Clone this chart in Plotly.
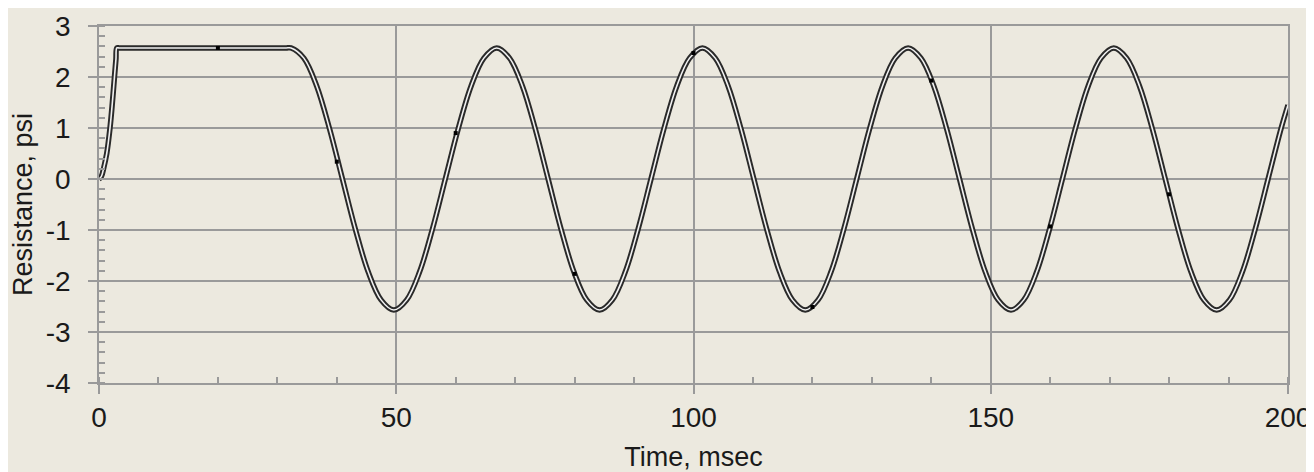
import plotly.graph_objects as go

# Resistance time history
time_ms = [0, 0.4, 0.8, 1.3, 1.85, 2.25, 2.6, 2.85, 3.0, 3.4, 10, 20, 30, 31.5,
           32.30, 34.46, 36.63, 38.79, 40.95, 43.11, 45.28, 47.44, 49.60, 51.76,
           53.93, 56.09, 58.25, 60.41, 62.58, 64.74, 66.90, 69.06, 71.23, 73.39,
           75.55, 77.71, 79.88, 82.04, 84.20, 86.36, 88.53, 90.69, 92.85, 95.01,
           97.18, 99.34, 101.50, 103.66, 105.83, 107.99, 110.15, 112.31, 114.48,
           116.64, 118.80, 120.96, 123.13, 125.29, 127.45, 129.61, 131.78, 133.94,
           136.10, 138.26, 140.43, 142.59, 144.75, 146.91, 149.08, 151.24, 153.40,
           155.56, 157.73, 159.89, 162.05, 164.21, 166.38, 168.54, 170.70, 172.86,
           175.03, 177.19, 179.35, 181.51, 183.68, 185.84, 188.00, 190.16, 192.33,
           194.49, 196.65, 198.81, 200]
resistance_psi = [0, 0.05, 0.22, 0.5, 1.0, 1.5, 2.0, 2.35, 2.57, 2.57, 2.57, 2.57, 2.57, 2.57,
                  2.57, 2.37, 1.82, 0.98, 0, -0.98, -1.82, -2.37, -2.57, -2.37,
                  -1.82, -0.98, 0, 0.98, 1.82, 2.37, 2.57, 2.37, 1.82, 0.98,
                  0, -0.98, -1.82, -2.37, -2.57, -2.37, -1.82, -0.98, 0, 0.98,
                  1.82, 2.37, 2.57, 2.37, 1.82, 0.98, 0, -0.98, -1.82,
                  -2.37, -2.57, -2.37, -1.82, -0.98, 0, 0.98, 1.82, 2.37,
                  2.57, 2.37, 1.82, 0.98, 0, -0.98, -1.82, -2.37, -2.57,
                  -2.37, -1.82, -0.98, 0, 0.98, 1.82, 2.37, 2.57, 2.37,
                  1.82, 0.98, 0, -0.98, -1.82, -2.37, -2.57, -2.37, -1.82,
                  -0.98, 0, 0.98, 1.45]

marker_time = [20, 40, 60, 80, 100, 120, 140, 160, 180]
marker_psi = [2.57, 0.34, 0.90, -1.86, 2.47, -2.51, 1.93, -0.93, -0.30]

x_ticks = [0, 50, 100, 150, 200]
y_ticks = [-4, -3, -2, -1, 0, 1, 2, 3]

BG = "#ECE9DF"
GRID = "#9A9A9A"
FONT = "Liberation Sans, Arial, sans-serif"

fig = go.Figure()
fig.add_trace(go.Scatter(x=time_ms, y=resistance_psi, mode="lines",
                         line=dict(color="#2A2A2A", width=5.5, shape="spline", smoothing=1.0),
                         hoverinfo="skip", showlegend=False))
fig.add_trace(go.Scatter(x=time_ms, y=resistance_psi, mode="lines",
                         line=dict(color="#F2F2F2", width=1.6, shape="spline", smoothing=1.0),
                         showlegend=False))
fig.add_trace(go.Scatter(x=marker_time, y=marker_psi, mode="markers",
                         marker=dict(symbol="square", size=4, color="#000000"),
                         showlegend=False))

axis_common = dict(
    showgrid=True, gridcolor=GRID, gridwidth=1.5,
    showline=True, linecolor=GRID, linewidth=1.5, mirror=True,
    ticks="outside", ticklen=9, tickwidth=1.5, tickcolor=GRID,
    zeroline=False, automargin=False,
    tickfont=dict(family=FONT, size=28, color="#1A1A1A"),
)

# the page body adds an 8px offset, so the figure is 8px smaller and margins shifted
fig.update_layout(
    width=1306, height=464,
    margin=dict(l=91, r=26, t=18, b=89),
    paper_bgcolor=BG, plot_bgcolor=BG,
    font=dict(family=FONT, color="#1A1A1A"),
    xaxis=dict(range=[0, 200], tickvals=x_ticks, ticktext=[str(v) for v in x_ticks],
               minor=dict(dtick=10, tick0=0, ticks="inside", ticklen=6, tickwidth=1.5,
                          tickcolor=GRID, showgrid=False),
               title=dict(text="Time, msec", font=dict(family=FONT, size=27), standoff=18),
               **axis_common),
    yaxis=dict(range=[-4, 3], tickvals=y_ticks, ticktext=[str(v) for v in y_ticks],
               minor=dict(dtick=0.2, tick0=0, ticks="inside", ticklen=6, tickwidth=1.5,
                          tickcolor=GRID, showgrid=False),
               ticklabelstandoff=12,
               title=dict(text="Resistance, psi", font=dict(family=FONT, size=27), standoff=8),
               **axis_common),
)

fig.write_html("out.html")
